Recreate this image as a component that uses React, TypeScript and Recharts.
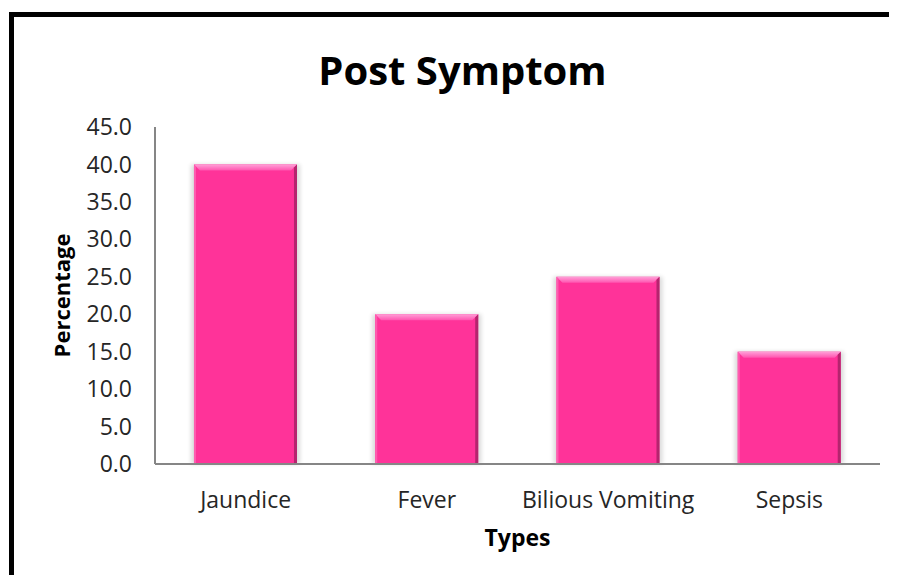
import { Bar, BarChart, XAxis, YAxis, Label } from "recharts";

const types = ["Jaundice", "Fever", "Bilious Vomiting", "Sepsis"];
const percentages = [40, 20, 25, 15];
const yTicks = [0, 5, 10, 15, 20, 25, 30, 35, 40, 45];

const data = types.map((type, i) => ({ type, value: percentages[i] }));

const FONT = "'Open Sans', sans-serif";
const AXIS = "#868686";
const PINK = "#FF3399";

// bevelled bar: flat face, light top chamfer, darker right edge
function BevelBar(props: any) {
  const { x, y, width, height } = props;
  if (!height || height <= 0) return null;
  const b = 6;
  return (
    <g>
      <rect x={x - 3} y={y} width={width + 6} height={height} fill="#000" opacity={0.14} filter="url(#barShadow)" />
      <rect x={x} y={y} width={width} height={height} fill={PINK} />
      <polygon
        points={`${x},${y} ${x + width},${y} ${x + width - b},${y + b} ${x + b},${y + b}`}
        fill="url(#bevelTop)"
      />
      <polygon
        points={`${x + width},${y} ${x + width},${y + height} ${x + width - 3},${y + height} ${x + width - 3},${y + 3}`}
        fill="#B5246E"
      />
      <polygon
        points={`${x},${y} ${x + 2},${y + 2} ${x + 2},${y + height} ${x},${y + height}`}
        fill="#FF5CB0"
      />
    </g>
  );
}

export default function App() {
  return (
    <div style={{ position: "relative", width: 897, height: 583, margin: -8, overflow: "hidden", background: "#fff" }}>
      <div
        style={{
          position: "absolute",
          left: 9,
          top: 12,
          width: 1000,
          height: 700,
          borderLeft: "5px solid #000",
          borderTop: "5px solid #000",
        }}
      />
      <div
        style={{
          position: "absolute",
          left: 0,
          width: 925,
          top: 44,
          textAlign: "center",
          fontFamily: FONT,
          fontWeight: 700,
          fontSize: 40,
          lineHeight: "52px",
          color: "#000",
        }}
      >
        Post Symptom
      </div>
      <div style={{ position: "absolute", left: 0, top: 0 }}>
        <BarChart
          width={897}
          height={583}
          data={data}
          margin={{ top: 127, right: 17, bottom: 83, left: 95 }}
          barCategoryGap="21.5%"
        >
          <defs>
            <linearGradient id="bevelTop" x1="0" y1="0" x2="0" y2="1">
              <stop offset="0%" stopColor="#FFA0D8" />
              <stop offset="100%" stopColor="#FF55B0" />
            </linearGradient>
            <filter id="barShadow" x="-10%" y="-10%" width="120%" height="120%">
              <feGaussianBlur stdDeviation="2" />
            </filter>
          </defs>
          <XAxis
            dataKey="type"
            tickLine={false}
            axisLine={{ stroke: AXIS, strokeWidth: 2 }}
            tick={{ fontFamily: FONT, fontSize: 23, fill: "#262626" }}
            tickSize={0}
            tickMargin={28}
            height={36}
            interval={0}
          >
            <Label
              value="Types"
              position="insideBottom"
              offset={-46}
              style={{ fontFamily: FONT, fontWeight: 700, fontSize: 23, fill: "#000" }}
            />
          </XAxis>
          <YAxis
            domain={[0, 45]}
            ticks={yTicks}
            tickFormatter={(v: number) => v.toFixed(1)}
            tickLine={false}
            axisLine={{ stroke: AXIS, strokeWidth: 2 }}
            tick={{ fontFamily: FONT, fontSize: 23, fill: "#262626" }}
            tickSize={0}
            tickMargin={23}
            width={60}
            interval={0}
          >
            <Label
              value="Percentage"
              angle={-90}
              position="left"
              offset={33}
              style={{ fontFamily: FONT, fontWeight: 700, fontSize: 22, fill: "#000", textAnchor: "middle" }}
            />
          </YAxis>
          <Bar dataKey="value" shape={BevelBar} isAnimationActive={false} />
        </BarChart>
      </div>
    </div>
  );
}
